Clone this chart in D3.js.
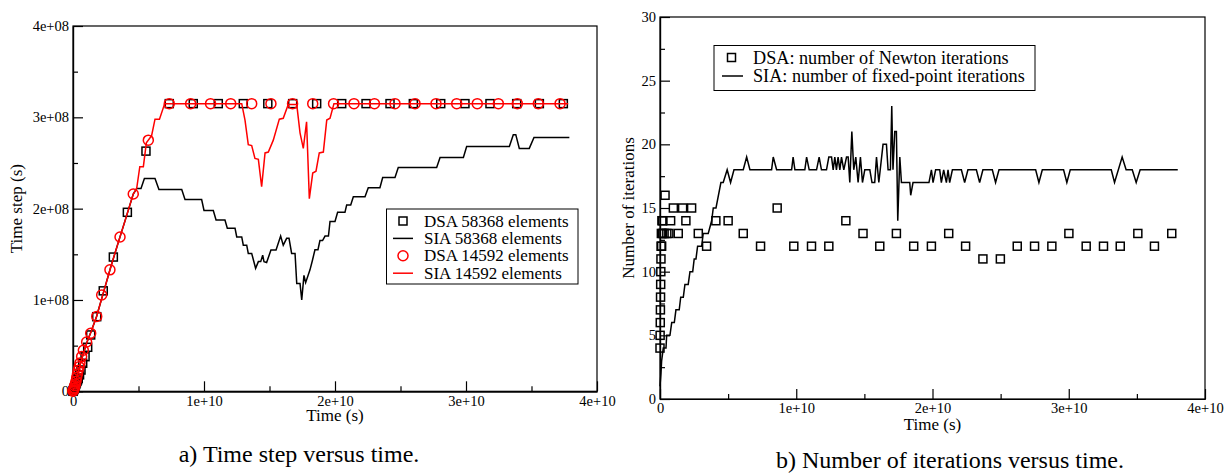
<!DOCTYPE html>
<html>
<head>
<meta charset="utf-8">
<script src="https://cdn.jsdelivr.net/npm/d3@7"></script>
<style>
  body { margin: 0; background: #fff; }
  text { font-family: "Liberation Serif", "Times New Roman", serif; fill: #000; }
</style>
</head>
<body>
<script>
// ---- left panel data (x in 1e10 s, y in 1e8 s) ----
const dsa58X = [0, 0.002, 0.003, 0.006, 0.008, 0.012, 0.015, 0.018, 0.022, 0.026, 0.03, 0.035, 0.04, 0.05, 0.061, 0.074, 0.092, 0.112,
  0.135, 0.181, 0.231, 0.308, 0.415, 0.557,
  0.735, 0.918, 1.109, 1.300, 1.487, 1.677, 1.860, 2.051, 2.237, 2.420, 2.598, 2.807, 2.992, 3.183, 3.387, 3.560, 3.743];
const dsa58Y = [0, 0.005, 0.01, 0.02, 0.03, 0.04, 0.05, 0.065, 0.08, 0.095, 0.11, 0.125, 0.14, 0.18, 0.233, 0.307, 0.379, 0.482,
  0.617, 0.817, 1.10, 1.47, 1.96, 2.63,
  3.15, 3.15, 3.15, 3.15, 3.15, 3.15, 3.15, 3.15, 3.15, 3.15, 3.15, 3.15, 3.15, 3.15, 3.15, 3.15, 3.15];

const sia58X = [0, 0.02, 0.05, 0.08, 0.11, 0.14, 0.18, 0.23, 0.29, 0.35, 0.40, 0.46,
  0.486, 0.519, 0.545, 0.626, 0.656, 0.83, 0.855, 0.982, 1.0, 1.071, 1.092, 1.16, 1.178, 1.237, 1.25, 1.288, 1.30, 1.326,
  1.338, 1.364, 1.394, 1.415, 1.433, 1.448, 1.458, 1.478, 1.511, 1.55, 1.585, 1.605, 1.631, 1.649, 1.669, 1.695, 1.708, 1.733,
  1.746, 1.763, 1.776, 1.809, 1.827, 1.847, 1.87, 1.885, 1.905, 1.924, 1.95, 1.962, 2.0, 2.02, 2.076, 2.089, 2.12, 2.14, 2.229,
  2.254, 2.343, 2.364, 2.458, 2.483, 2.776, 2.802, 2.98, 3.005, 3.331, 3.361, 3.38, 3.407, 3.483, 3.519, 3.789];
const sia58Y = [0, 0.1, 0.27, 0.42, 0.55, 0.66, 0.82, 1.07, 1.37, 1.65, 1.88, 2.16,
  2.22, 2.22, 2.33, 2.33, 2.21, 2.21, 2.10, 2.10, 1.98, 1.98, 1.876, 1.876, 1.785, 1.785, 1.69, 1.69, 1.60, 1.60,
  1.51, 1.51, 1.347, 1.42, 1.42, 1.49, 1.42, 1.41, 1.547, 1.547, 1.70, 1.60, 1.675, 1.675, 1.51, 1.51, 1.18, 1.18,
  1.0, 1.27, 1.19, 1.33, 1.43, 1.55, 1.55, 1.65, 1.65, 1.70, 1.70, 1.86, 1.86, 1.96, 1.96, 2.04, 2.04, 2.13, 2.13,
  2.23, 2.23, 2.34, 2.34, 2.45, 2.45, 2.56, 2.56, 2.68, 2.68, 2.81, 2.81, 2.66, 2.66, 2.78, 2.78];

const dsa14X = [0, 0.002, 0.005, 0.008, 0.01, 0.014, 0.018, 0.023, 0.028, 0.034, 0.04, 0.047, 0.053, 0.066, 0.079, 0.104, 0.135,
  0.181, 0.219, 0.282, 0.359, 0.46, 0.575,
  0.735, 0.898, 1.050, 1.204, 1.364, 1.511, 1.676, 1.830, 1.989, 2.145, 2.301, 2.458, 2.611, 2.771, 2.929, 3.086, 3.247, 3.392, 3.552, 3.718];
const dsa14Y = [0, 0.01, 0.015, 0.03, 0.04, 0.06, 0.08, 0.11, 0.15, 0.19, 0.23, 0.27, 0.31, 0.38, 0.45, 0.54, 0.635,
  0.82, 1.055, 1.33, 1.69, 2.16, 2.75,
  3.15, 3.15, 3.15, 3.15, 3.15, 3.15, 3.15, 3.15, 3.15, 3.15, 3.15, 3.15, 3.15, 3.15, 3.15, 3.15, 3.15, 3.15, 3.15, 3.15];

const sia14X = [0, 0.02, 0.05, 0.08, 0.11, 0.14, 0.18, 0.23, 0.29, 0.35, 0.40, 0.46,
  0.486, 0.51, 0.537, 0.56, 0.60, 0.626, 0.66, 0.70,
  1.288, 1.313, 1.338, 1.364, 1.389, 1.415, 1.440, 1.466, 1.491, 1.529, 1.575, 1.605, 1.643, 1.708, 1.733, 1.758, 1.783,
  1.804, 1.830, 1.855, 1.880, 1.911, 1.937, 1.962, 1.992, 3.78];
const sia14Y = [0, 0.1, 0.27, 0.42, 0.55, 0.66, 0.82, 1.07, 1.37, 1.65, 1.88, 2.16,
  2.22, 2.46, 2.46, 2.72, 2.80, 2.98, 2.98, 3.15,
  3.15, 2.97, 2.70, 2.69, 2.55, 2.54, 2.24, 2.61, 2.62, 2.75, 2.98, 2.99, 3.14, 3.14, 2.83, 2.66, 2.95,
  2.11, 2.39, 2.41, 2.61, 2.62, 2.97, 2.99, 3.15, 3.15];

// ---- right panel data (x in 1e10 s, y = iterations) ----
const newtonX = [0, 0.001, 0.002, 0.003, 0.004, 0.005, 0.006, 0.007, 0.008, 0.01, 0.012, 0.014, 0.018, 0.02, 0.03, 0.037, 0.05, 0.065,
  0.078, 0.098, 0.134, 0.166, 0.19, 0.232, 0.281, 0.342, 0.41, 0.50, 0.611, 0.738, 0.86, 0.982, 1.112, 1.239, 1.364, 1.49,
  1.613, 1.735, 1.862, 1.992, 2.119, 2.243, 2.37, 2.498, 2.622, 2.749, 2.876, 3.001, 3.128, 3.255, 3.378, 3.507, 3.629, 3.756];
const newtonY = [4, 5, 6, 7, 8, 9, 10, 11, 12, 13, 12, 14, 13, 14, 13, 16, 13, 13,
  14, 15, 13, 15, 14, 15, 13, 12, 14, 14, 13, 12, 15, 12, 12, 12, 14, 13,
  12, 13, 12, 12, 13, 12, 11, 11, 12, 12, 12, 13, 12, 12, 12, 13, 12, 13];

const fixedX = [0, 0.007, 0.012, 0.024, 0.044, 0.049, 0.073, 0.086, 0.105, 0.117, 0.141, 0.152, 0.171, 0.183, 0.207, 0.220, 0.240,
  0.251, 0.264, 0.276, 0.306, 0.317, 0.354, 0.379, 0.391, 0.411, 0.447, 0.464, 0.493, 0.518, 0.543, 0.611, 0.636, 0.660,
  0.819, 0.831, 0.856, 0.966, 0.977, 0.990, 1.063, 1.076, 1.095, 1.149, 1.168, 1.185, 1.222, 1.239, 1.259, 1.271, 1.283,
  1.295, 1.307, 1.320, 1.332, 1.349, 1.369, 1.381, 1.393, 1.408, 1.422, 1.437, 1.454, 1.471, 1.486, 1.503, 1.540, 1.556,
  1.576, 1.589, 1.606, 1.637, 1.662, 1.674, 1.691, 1.701, 1.710, 1.723, 1.735, 1.745, 1.760, 1.772, 1.833, 1.840, 1.857,
  1.974, 1.992, 2.004, 2.023, 2.053, 2.065, 2.082, 2.102, 2.114, 2.126, 2.146, 2.212, 2.236, 2.260, 2.322, 2.346, 2.370,
  2.439, 2.463, 2.488, 2.757, 2.781, 2.806, 2.962, 2.986, 3.011, 3.312, 3.336, 3.392, 3.421, 3.466, 3.495, 3.524, 3.800];
const fixedY = [1, 2, 3, 4, 4, 5, 5, 6, 6, 7, 7, 8, 8, 9, 9, 10, 10,
  11, 11, 12, 12, 13, 13, 14, 15, 15, 17, 17, 18, 17, 18, 18, 19, 18,
  18, 19, 18, 18, 19, 18, 18, 19, 18, 18, 19, 18, 18, 19, 19, 18, 19,
  18, 19, 18, 19, 18, 19, 19, 17, 21, 18, 19, 17, 19, 17, 18, 18, 17,
  17, 19, 17, 20, 20, 18, 18, 23, 18, 21, 21, 14, 19, 17, 17, 16, 17,
  17, 18, 17, 18, 18, 17, 18, 17, 18, 17, 18, 18, 17, 18, 18, 17, 18,
  18, 17, 18, 18, 17, 18, 18, 17, 18, 18, 17, 19, 18, 18, 17, 18, 18];

const ticksMain = [0, 1, 2, 3, 4];
const ticksMinor = [0.5, 1.5, 2.5, 3.5];
const xTickLabels = ["0", "1e+10", "2e+10", "3e+10", "4e+10"];
const leftYTickLabels = ["0", "1e+08", "2e+08", "3e+08", "4e+08"];
const rightYTicks = [0, 5, 10, 15, 20, 25, 30];
const rightYMinor = [2.5, 7.5, 12.5, 17.5, 22.5, 27.5];

const leftLegend = ["DSA 58368 elements", "SIA 58368 elements", "DSA 14592 elements", "SIA 14592 elements"];
const rightLegend = ["DSA: number of Newton iterations", "SIA: number of fixed-point iterations"];

const svg = d3.select("body").append("svg")
  .attr("width", 1225).attr("height", 474);

const zip = (xs, ys) => xs.map((v, i) => [v, ys[i]]);

function frame(x, y, yMain, yMinor, yLabels, xTitle, yTitle, yTitleX, xTitleDy) {
  const g = svg.append("g");
  const [x0, x1] = x.range(), [y0, y1] = y.range();

  g.append("g").attr("transform", `translate(0,${y0})`)
    .call(d3.axisBottom(x).tickValues(ticksMain).tickSize(-10).tickSizeOuter(0).tickPadding(4)
      .tickFormat((d, i) => xTickLabels[i]));
  g.append("g").attr("transform", `translate(0,${y0})`)
    .call(d3.axisBottom(x).tickValues(ticksMinor).tickSize(-5).tickSizeOuter(0).tickFormat(""));
  g.append("g").attr("transform", `translate(${x0},0)`)
    .call(d3.axisLeft(y).tickValues(yMain).tickSize(-10).tickSizeOuter(0).tickPadding(4)
      .tickFormat((d, i) => yLabels[i]));
  g.append("g").attr("transform", `translate(${x0},0)`)
    .call(d3.axisLeft(y).tickValues(yMinor).tickSize(-5).tickSizeOuter(0).tickFormat(""));

  g.selectAll(".tick text").style("font-family", '"Liberation Serif", serif').style("font-size", "14.5px");
  g.selectAll("path, line").attr("stroke", "#000").attr("stroke-width", 1.2);

  g.append("rect").attr("x", x0).attr("y", y1).attr("width", x1 - x0).attr("height", y0 - y1)
    .attr("fill", "none").attr("stroke", "#000").attr("stroke-width", 1.2);

  g.append("text").attr("x", (x0 + x1) / 2).attr("y", y0 + xTitleDy).attr("text-anchor", "middle")
    .style("font-size", "17px").text(xTitle);
  g.append("text").attr("transform", `translate(${yTitleX},${(y0 + y1) / 2}) rotate(-90)`)
    .attr("text-anchor", "middle").style("font-size", "17px").text(yTitle);
  return g;
}

function squares(g, pts, x, y, s, sw) {
  g.append("g").selectAll("rect").data(pts).join("rect")
    .attr("x", d => x(d[0]) - s / 2).attr("y", d => y(d[1]) - s / 2)
    .attr("width", s).attr("height", s)
    .attr("fill", "none").attr("stroke", "#000").attr("stroke-width", sw);
}

// ---------- left panel ----------
const xL = d3.scaleLinear().domain([0, 4]).range([73, 597]);
const yL = d3.scaleLinear().domain([0, 4]).range([391.3, 26]);
const gL = frame(xL, yL, ticksMain, ticksMinor, leftYTickLabels, "Time (s)", "Time step (s)", 22, 30);
const line = (x, y) => d3.line().x(d => x(d[0])).y(d => y(d[1]));

squares(gL, zip(dsa58X, dsa58Y), xL, yL, 8, 1.5);
gL.append("path").datum(zip(sia58X, sia58Y)).attr("d", line(xL, yL))
  .attr("fill", "none").attr("stroke", "#000").attr("stroke-width", 1.5);
gL.append("g").selectAll("circle").data(zip(dsa14X, dsa14Y)).join("circle")
  .attr("cx", d => xL(d[0])).attr("cy", d => yL(d[1])).attr("r", 5)
  .attr("fill", "none").attr("stroke", "#f00").attr("stroke-width", 1.5);
gL.append("path").datum(zip(sia14X, sia14Y)).attr("d", line(xL, yL))
  .attr("fill", "none").attr("stroke", "#f00").attr("stroke-width", 1.5);

// legend left
const lg = gL.append("g");
lg.append("rect").attr("x", 386.5).attr("y", 209).attr("width", 191.5).attr("height", 75)
  .attr("fill", "#fff").attr("stroke", "#000").attr("stroke-width", 1);
leftLegend.forEach((t, i) => {
  const cy = 221 + i * 17.4;
  if (i === 0) lg.append("rect").attr("x", 399).attr("y", cy - 4).attr("width", 8).attr("height", 8)
    .attr("fill", "none").attr("stroke", "#000").attr("stroke-width", 1.5);
  if (i === 2) lg.append("circle").attr("cx", 403).attr("cy", cy).attr("r", 5)
    .attr("fill", "none").attr("stroke", "#f00").attr("stroke-width", 1.5);
  if (i === 1 || i === 3) lg.append("line").attr("x1", 393).attr("x2", 413).attr("y1", cy).attr("y2", cy)
    .attr("stroke", i === 1 ? "#000" : "#f00").attr("stroke-width", 1.5);
  lg.append("text").attr("x", 424).attr("y", cy + 5.5).style("font-size", "17px").text(t);
});

// ---------- right panel ----------
const xR = d3.scaleLinear().domain([0, 4]).range([660, 1205]);
const yR = d3.scaleLinear().domain([0, 30]).range([399, 17]);
const gR = frame(xR, yR, rightYTicks, rightYMinor, rightYTicks.map(String), "Time (s)", "Number of iterations", 634, 30.5);

squares(gR, zip(newtonX, newtonY), xR, yR, 8, 1.5);
gR.append("path").datum(zip(fixedX, fixedY)).attr("d", line(xR, yR))
  .attr("fill", "none").attr("stroke", "#000").attr("stroke-width", 1.5);

const rg = gR.append("g");
rg.append("rect").attr("x", 714).attr("y", 45.5).attr("width", 321).attr("height", 45)
  .attr("fill", "#fff").attr("stroke", "#000").attr("stroke-width", 1);
rightLegend.forEach((t, i) => {
  const cy = 57.5 + i * 18.5;
  if (i === 0) rg.append("rect").attr("x", 727.5).attr("y", cy - 4).attr("width", 8).attr("height", 8)
    .attr("fill", "none").attr("stroke", "#000").attr("stroke-width", 1.5);
  else rg.append("line").attr("x1", 722).attr("x2", 743).attr("y1", cy).attr("y2", cy)
    .attr("stroke", "#000").attr("stroke-width", 1.5);
  rg.append("text").attr("x", 753).attr("y", cy + 6).style("font-size", "18.2px").text(t);
});

// ---------- captions ----------
svg.append("text").attr("x", 299).attr("y", 462).attr("text-anchor", "middle")
  .style("font-size", "24px").text("a) Time step versus time.");
svg.append("text").attr("x", 950).attr("y", 468).attr("text-anchor", "middle")
  .style("font-size", "24px").text("b) Number of iterations versus time.");
</script>
</body>
</html>
